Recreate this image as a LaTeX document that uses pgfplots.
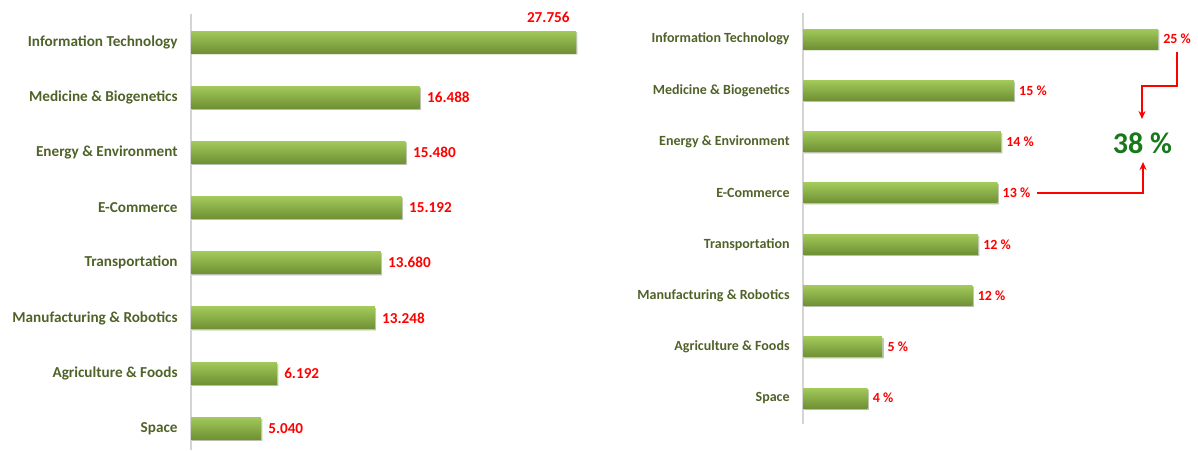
\documentclass[border=0pt]{standalone}
\usepackage{fontspec}
\setmainfont{Carlito}
\usepackage{pgfplots}
\pgfplotsset{compat=1.18}
\usetikzlibrary{arrows.meta,shadows}

\definecolor{barTop}{HTML}{A2C95A}
\definecolor{barBot}{HTML}{6F9034}
\definecolor{catText}{HTML}{4F6228}
\definecolor{valRed}{HTML}{FF0000}
\definecolor{bigGreen}{HTML}{17791A}
\definecolor{axisGrey}{HTML}{D4D4D4}

\pgfplotsset{
  barchart/.style={
    xbar, bar shift=0pt,
    scale only axis,
    anchor=north west,
    axis x line=none,
    axis y line*=left,
    y axis line style={draw=axisGrey, line width=0.8pt, -},
    y dir=reverse,
    xmin=0,
    enlargelimits=false,
    clip=false,
    ytick={0,...,7},
    yticklabels={Information Technology, Medicine \& Biogenetics, Energy \& Environment,
      E-Commerce, Transportation, Manufacturing \& Robotics, Agriculture \& Foods, Space},
    major tick length=0pt,
    ytick style={draw=none},
    yticklabel style={text=catText, inner sep=0pt, xshift=-6.5pt},
    point meta=x,
    /pgf/number format/assume math mode=true,
  },
  % one bar per plot, so the gradient runs over each bar on its own
  greenbar/.style={draw=none, top color=barTop, bottom color=barBot,
    drop shadow={shadow xshift=0.7pt, shadow yshift=-0.7pt, opacity=0.2, fill=black}},
  leftval/.style={greenbar,
    nodes near coords={\pgfmathprintnumber[fixed,fixed zerofill,precision=3]{\pgfplotspointmeta}},
    every node near coord/.append style={font=\bfseries\fontsize{7.6}{9}\selectfont, text=valRed,
      anchor=west, inner sep=0pt, xshift=3.5pt}},
  leftvaltop/.style={greenbar,
    nodes near coords={\pgfmathprintnumber[fixed,fixed zerofill,precision=3]{\pgfplotspointmeta}},
    every node near coord/.append style={font=\bfseries\fontsize{7.6}{9}\selectfont, text=valRed,
      anchor=east, inner sep=0pt, xshift=-3pt, yshift=12.5pt}},
  rightval/.style={greenbar,
    nodes near coords={\pgfmathprintnumber[fixed,precision=0]{\pgfplotspointmeta}~\%},
    every node near coord/.append style={font=\bfseries\fontsize{7}{8.5}\selectfont, text=valRed,
      anchor=west, inner sep=0pt, xshift=2.5pt}},
}

\begin{document}
\begin{tikzpicture}
\useasboundingbox (0,0) rectangle (599pt,-225pt);

% left: absolute values
\begin{axis}[barchart,
  at={(95.5pt,-7.2pt)},
  width=194.2pt, height=218pt,
  xmax=28, ymin=-0.5, ymax=7.4,
  bar width=11pt,
  yticklabel style={font=\bfseries\fontsize{7.6}{9}\selectfont},
  ]
\addplot[leftvaltop] coordinates {(27.756,0)};
\addplot[leftval] coordinates {(16.488,1)};
\addplot[leftval] coordinates {(15.480,2)};
\addplot[leftval] coordinates {(15.192,3)};
\addplot[leftval] coordinates {(13.680,4)};
\addplot[leftval] coordinates {(13.248,5)};
\addplot[leftval] coordinates {(6.192,6)};
\addplot[leftval] coordinates {(5.040,7)};
\end{axis}

% right: shares in percent
\begin{axis}[barchart,
  at={(401.5pt,-6.7pt)},
  width=180.7pt, height=205.2pt,
  xmax=25, ymin=-0.5, ymax=7.5,
  bar width=10pt,
  yticklabel style={font=\bfseries\fontsize{7}{8.5}\selectfont},
  ]
\addplot[rightval] coordinates {(24.55,0)};
\addplot[rightval] coordinates {(14.58,1)};
\addplot[rightval] coordinates {(13.69,2)};
\addplot[rightval] coordinates {(13.44,3)};
\addplot[rightval] coordinates {(12.10,4)};
\addplot[rightval] coordinates {(11.72,5)};
\addplot[rightval] coordinates {(5.48,6)};
\addplot[rightval] coordinates {(4.46,7)};
\end{axis}

% callout: IT + E-Commerce share
\draw[valRed, line width=0.75pt, -{Stealth[length=4pt,width=3.5pt]}]
  (588.5pt,-26pt) -- (588.5pt,-43pt) -- (571pt,-43pt) -- (571pt,-59.5pt);
\draw[valRed, line width=0.75pt, -{Stealth[length=4pt,width=3.5pt]}]
  (518.5pt,-96.5pt) -- (571.5pt,-96.5pt) -- (571.5pt,-81pt);
\node[text=bigGreen, font=\bfseries\fontsize{15}{18}\selectfont, inner sep=0pt]
  at (571.25pt,-71.5pt) {38 \%};
\end{tikzpicture}
\end{document}
